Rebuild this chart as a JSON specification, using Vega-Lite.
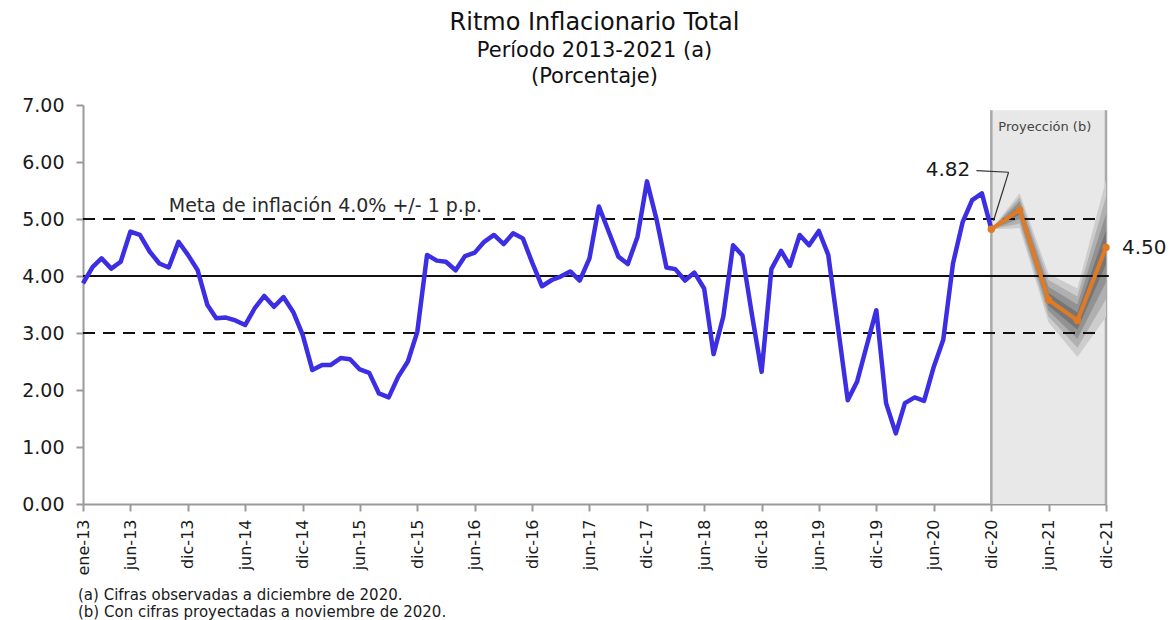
{
  "$schema": "https://vega.github.io/schema/vega-lite/v6.json",
  "width": 1023,
  "height": 399,
  "autosize": {"type": "none"},
  "padding": {"left": 83, "top": 105, "right": 67, "bottom": 116},
  "background": "white",
  "config": {
    "font": "DejaVu Sans",
    "view": {"stroke": null},
    "title": {"font": "DejaVu Sans", "fontSize": 24, "fontWeight": "normal", "color": "#111111", "subtitleFont": "DejaVu Sans", "subtitleFontSize": 21, "subtitleColor": "#111111", "subtitlePadding": 5, "subtitleLineHeight": 26, "anchor": "middle", "frame": "group", "offset": 9}
  },
  "title": {"text": "Ritmo Inflacionario Total", "subtitle": ["Período 2013-2021 (a)", "(Porcentaje)"]},
  "datasets": {
    "obs": [
      {"fecha": "2013-01-01", "valor": 3.87}, {"fecha": "2013-02-01", "valor": 4.16}, {"fecha": "2013-03-01", "valor": 4.31}, {"fecha": "2013-04-01", "valor": 4.13},
      {"fecha": "2013-05-01", "valor": 4.25}, {"fecha": "2013-06-01", "valor": 4.78}, {"fecha": "2013-07-01", "valor": 4.72}, {"fecha": "2013-08-01", "valor": 4.43},
      {"fecha": "2013-09-01", "valor": 4.22}, {"fecha": "2013-10-01", "valor": 4.15}, {"fecha": "2013-11-01", "valor": 4.60}, {"fecha": "2013-12-01", "valor": 4.37},
      {"fecha": "2014-01-01", "valor": 4.10}, {"fecha": "2014-02-01", "valor": 3.49}, {"fecha": "2014-03-01", "valor": 3.26}, {"fecha": "2014-04-01", "valor": 3.27},
      {"fecha": "2014-05-01", "valor": 3.22}, {"fecha": "2014-06-01", "valor": 3.14}, {"fecha": "2014-07-01", "valor": 3.43}, {"fecha": "2014-08-01", "valor": 3.65},
      {"fecha": "2014-09-01", "valor": 3.46}, {"fecha": "2014-10-01", "valor": 3.63}, {"fecha": "2014-11-01", "valor": 3.37}, {"fecha": "2014-12-01", "valor": 2.97},
      {"fecha": "2015-01-01", "valor": 2.35}, {"fecha": "2015-02-01", "valor": 2.44}, {"fecha": "2015-03-01", "valor": 2.44}, {"fecha": "2015-04-01", "valor": 2.56},
      {"fecha": "2015-05-01", "valor": 2.54}, {"fecha": "2015-06-01", "valor": 2.36}, {"fecha": "2015-07-01", "valor": 2.30}, {"fecha": "2015-08-01", "valor": 1.94},
      {"fecha": "2015-09-01", "valor": 1.87}, {"fecha": "2015-10-01", "valor": 2.23}, {"fecha": "2015-11-01", "valor": 2.50}, {"fecha": "2015-12-01", "valor": 3.02},
      {"fecha": "2016-01-01", "valor": 4.37}, {"fecha": "2016-02-01", "valor": 4.27}, {"fecha": "2016-03-01", "valor": 4.25}, {"fecha": "2016-04-01", "valor": 4.10},
      {"fecha": "2016-05-01", "valor": 4.35}, {"fecha": "2016-06-01", "valor": 4.41}, {"fecha": "2016-07-01", "valor": 4.60}, {"fecha": "2016-08-01", "valor": 4.72},
      {"fecha": "2016-09-01", "valor": 4.56}, {"fecha": "2016-10-01", "valor": 4.75}, {"fecha": "2016-11-01", "valor": 4.66}, {"fecha": "2016-12-01", "valor": 4.23},
      {"fecha": "2017-01-01", "valor": 3.82}, {"fecha": "2017-02-01", "valor": 3.93}, {"fecha": "2017-03-01", "valor": 3.99}, {"fecha": "2017-04-01", "valor": 4.08},
      {"fecha": "2017-05-01", "valor": 3.92}, {"fecha": "2017-06-01", "valor": 4.31}, {"fecha": "2017-07-01", "valor": 5.22}, {"fecha": "2017-08-01", "valor": 4.78},
      {"fecha": "2017-09-01", "valor": 4.34}, {"fecha": "2017-10-01", "valor": 4.21}, {"fecha": "2017-11-01", "valor": 4.69}, {"fecha": "2017-12-01", "valor": 5.66},
      {"fecha": "2018-01-01", "valor": 4.98}, {"fecha": "2018-02-01", "valor": 4.15}, {"fecha": "2018-03-01", "valor": 4.12}, {"fecha": "2018-04-01", "valor": 3.92},
      {"fecha": "2018-05-01", "valor": 4.06}, {"fecha": "2018-06-01", "valor": 3.78}, {"fecha": "2018-07-01", "valor": 2.63}, {"fecha": "2018-08-01", "valor": 3.29},
      {"fecha": "2018-09-01", "valor": 4.54}, {"fecha": "2018-10-01", "valor": 4.36}, {"fecha": "2018-11-01", "valor": 3.29}, {"fecha": "2018-12-01", "valor": 2.32},
      {"fecha": "2019-01-01", "valor": 4.12}, {"fecha": "2019-02-01", "valor": 4.44}, {"fecha": "2019-03-01", "valor": 4.18}, {"fecha": "2019-04-01", "valor": 4.72},
      {"fecha": "2019-05-01", "valor": 4.54}, {"fecha": "2019-06-01", "valor": 4.79}, {"fecha": "2019-07-01", "valor": 4.37}, {"fecha": "2019-08-01", "valor": 3.10},
      {"fecha": "2019-09-01", "valor": 1.82}, {"fecha": "2019-10-01", "valor": 2.15}, {"fecha": "2019-11-01", "valor": 2.79}, {"fecha": "2019-12-01", "valor": 3.40},
      {"fecha": "2020-01-01", "valor": 1.77}, {"fecha": "2020-02-01", "valor": 1.24}, {"fecha": "2020-03-01", "valor": 1.77}, {"fecha": "2020-04-01", "valor": 1.87},
      {"fecha": "2020-05-01", "valor": 1.81}, {"fecha": "2020-06-01", "valor": 2.41}, {"fecha": "2020-07-01", "valor": 2.88}, {"fecha": "2020-08-01", "valor": 4.22},
      {"fecha": "2020-09-01", "valor": 4.95}, {"fecha": "2020-10-01", "valor": 5.33}, {"fecha": "2020-11-01", "valor": 5.45}, {"fecha": "2020-12-01", "valor": 4.82}
    ],
    "proy": [
      {"fecha": "2020-12-01", "valor": 4.82}, {"fecha": "2021-03-01", "valor": 5.16}, {"fecha": "2021-06-01", "valor": 3.58}, {"fecha": "2021-09-01", "valor": 3.22}, {"fecha": "2021-12-01", "valor": 4.50}
    ],
    "fan": [
      {"banda": "b1", "fecha": "2020-12-01", "lo": 4.82, "hi": 4.82}, {"banda": "b1", "fecha": "2021-03-01", "lo": 4.84, "hi": 5.45}, {"banda": "b1", "fecha": "2021-06-01", "lo": 3.19, "hi": 4.04}, {"banda": "b1", "fecha": "2021-09-01", "lo": 2.58, "hi": 3.78}, {"banda": "b1", "fecha": "2021-12-01", "lo": 3.28, "hi": 5.68},
      {"banda": "b2", "fecha": "2020-12-01", "lo": 4.82, "hi": 4.82}, {"banda": "b2", "fecha": "2021-03-01", "lo": 4.92, "hi": 5.38}, {"banda": "b2", "fecha": "2021-06-01", "lo": 3.29, "hi": 3.93}, {"banda": "b2", "fecha": "2021-09-01", "lo": 2.74, "hi": 3.64}, {"banda": "b2", "fecha": "2021-12-01", "lo": 3.59, "hi": 5.39},
      {"banda": "b3", "fecha": "2020-12-01", "lo": 4.82, "hi": 4.82}, {"banda": "b3", "fecha": "2021-03-01", "lo": 5.00, "hi": 5.31}, {"banda": "b3", "fecha": "2021-06-01", "lo": 3.39, "hi": 3.81}, {"banda": "b3", "fecha": "2021-09-01", "lo": 2.90, "hi": 3.50}, {"banda": "b3", "fecha": "2021-12-01", "lo": 3.89, "hi": 5.09},
      {"banda": "b4", "fecha": "2020-12-01", "lo": 4.82, "hi": 4.82}, {"banda": "b4", "fecha": "2021-03-01", "lo": 5.08, "hi": 5.23}, {"banda": "b4", "fecha": "2021-06-01", "lo": 3.48, "hi": 3.70}, {"banda": "b4", "fecha": "2021-09-01", "lo": 3.06, "hi": 3.36}, {"banda": "b4", "fecha": "2021-12-01", "lo": 4.20, "hi": 4.80}
    ],
    "ref": [
      {"tipo": "discontinua", "inicio": "2013-01-01", "fin": "2021-11-17", "valor": 5},
      {"tipo": "discontinua", "inicio": "2013-01-01", "fin": "2021-11-17", "valor": 3},
      {"tipo": "continua", "inicio": "2013-01-01", "fin": "2021-12-10", "valor": 4}
    ],
    "zona": [{"inicio": "2020-12-01", "fin": "2021-12-01", "y0": 0, "y1": 6.91}],
    "bordes": [{"fecha": "2020-12-01", "y0": 0, "y1": 6.91}, {"fecha": "2021-12-01", "y0": 0, "y1": 6.91}],
    "guia": [
      {"x1": "2020-10-15", "y1": 5.85, "x2": "2021-01-25", "y2": 5.82},
      {"x1": "2021-01-25", "y1": 5.82, "x2": "2020-12-08", "y2": 4.97}
    ]
  },
  "layer": [
    {
      "data": {"name": "zona"},
      "mark": {"type": "rect", "color": "#e8e8e8"},
      "encoding": {
        "x": {"field": "inicio", "type": "temporal", "scale": {"type": "utc", "domain": [{"year": 2013, "month": 1, "date": 1, "utc": true}, {"year": 2021, "month": 12, "date": 1, "utc": true}]}},
        "x2": {"field": "fin"},
        "y": {"field": "y0", "type": "quantitative", "scale": {"domain": [0, 7], "nice": false, "zero": false}},
        "y2": {"field": "y1"}
      }
    },
    {
      "data": {"name": "bordes"},
      "mark": {"type": "rule", "color": "#a9a9a9", "strokeWidth": 2.5},
      "encoding": {
        "x": {"field": "fecha", "type": "temporal", "scale": {"type": "utc", "domain": [{"year": 2013, "month": 1, "date": 1, "utc": true}, {"year": 2021, "month": 12, "date": 1, "utc": true}]}},
        "y": {"field": "y0", "type": "quantitative", "scale": {"domain": [0, 7], "nice": false, "zero": false}},
        "y2": {"field": "y1"}
      }
    },
    {
      "data": {"name": "fan"},
      "mark": {"type": "area", "opacity": 1},
      "encoding": {
        "x": {"field": "fecha", "type": "temporal", "scale": {"type": "utc", "domain": [{"year": 2013, "month": 1, "date": 1, "utc": true}, {"year": 2021, "month": 12, "date": 1, "utc": true}]}},
        "y": {"field": "lo", "type": "quantitative", "stack": null, "scale": {"domain": [0, 7], "nice": false, "zero": false}},
        "y2": {"field": "hi"},
        "color": {"field": "banda", "type": "nominal", "scale": {"domain": ["b1", "b2", "b3", "b4"], "range": ["#cdcdcd", "#b0b0b0", "#929292", "#767676"]}, "legend": null}
      }
    },
    {
      "data": {"name": "ref"},
      "mark": {"type": "rule", "color": "#111111", "strokeWidth": 2},
      "encoding": {
        "x": {"field": "inicio", "type": "temporal", "scale": {"type": "utc", "domain": [{"year": 2013, "month": 1, "date": 1, "utc": true}, {"year": 2021, "month": 12, "date": 1, "utc": true}]}},
        "x2": {"field": "fin"},
        "y": {"field": "valor", "type": "quantitative", "scale": {"domain": [0, 7], "nice": false, "zero": false}},
        "strokeDash": {"field": "tipo", "type": "nominal", "scale": {"domain": ["discontinua", "continua"], "range": [[12, 8], [1, 0]]}, "legend": null}
      }
    },
    {
      "data": {"name": "obs"},
      "mark": {"type": "line", "color": "#3b2ee3", "strokeWidth": 4.5, "strokeJoin": "round"},
      "encoding": {
        "x": {
          "field": "fecha", "type": "temporal",
          "scale": {"type": "utc", "domain": [{"year": 2013, "month": 1, "date": 1, "utc": true}, {"year": 2021, "month": 12, "date": 1, "utc": true}]},
          "axis": {
            "title": null, "grid": false,
            "values": [
              {"year": 2013, "month": 1, "date": 1, "utc": true}, {"year": 2013, "month": 6, "date": 1, "utc": true}, {"year": 2013, "month": 12, "date": 1, "utc": true},
              {"year": 2014, "month": 6, "date": 1, "utc": true}, {"year": 2014, "month": 12, "date": 1, "utc": true},
              {"year": 2015, "month": 6, "date": 1, "utc": true}, {"year": 2015, "month": 12, "date": 1, "utc": true},
              {"year": 2016, "month": 6, "date": 1, "utc": true}, {"year": 2016, "month": 12, "date": 1, "utc": true},
              {"year": 2017, "month": 6, "date": 1, "utc": true}, {"year": 2017, "month": 12, "date": 1, "utc": true},
              {"year": 2018, "month": 6, "date": 1, "utc": true}, {"year": 2018, "month": 12, "date": 1, "utc": true},
              {"year": 2019, "month": 6, "date": 1, "utc": true}, {"year": 2019, "month": 12, "date": 1, "utc": true},
              {"year": 2020, "month": 6, "date": 1, "utc": true}, {"year": 2020, "month": 12, "date": 1, "utc": true},
              {"year": 2021, "month": 6, "date": 1, "utc": true}, {"year": 2021, "month": 12, "date": 1, "utc": true}
            ],
            "labelExpr": "['ene','feb','mar','abr','may','jun','jul','ago','sep','oct','nov','dic'][utcmonth(datum.value)] + '-' + utcFormat(datum.value, '%y')",
            "labelAngle": 270, "labelFontSize": 16, "labelFont": "DejaVu Sans", "labelColor": "#1a1a1a",
            "labelPadding": 8, "labelOverlap": false, "labelFlush": false, "labelBound": false,
            "tickColor": "#9a9a9a", "tickSize": 7, "tickWidth": 2,
            "domainColor": "#9a9a9a", "domainWidth": 2
          }
        },
        "y": {
          "field": "valor", "type": "quantitative",
          "scale": {"domain": [0, 7], "nice": false, "zero": false},
          "axis": {
            "title": null, "grid": false, "values": [0, 1, 2, 3, 4, 5, 6, 7], "format": ".2f",
            "labelFontSize": 19, "labelFont": "DejaVu Sans", "labelColor": "#1a1a1a", "labelPadding": 12,
            "tickColor": "#9a9a9a", "tickSize": 7, "tickWidth": 2,
            "domainColor": "#9a9a9a", "domainWidth": 2
          }
        }
      }
    },
    {
      "data": {"name": "proy"},
      "mark": {"type": "line", "color": "#e07b24", "strokeWidth": 4, "strokeJoin": "round", "point": {"filled": true, "size": 55, "color": "#e07b24"}},
      "encoding": {
        "x": {"field": "fecha", "type": "temporal", "scale": {"type": "utc", "domain": [{"year": 2013, "month": 1, "date": 1, "utc": true}, {"year": 2021, "month": 12, "date": 1, "utc": true}]}},
        "y": {"field": "valor", "type": "quantitative", "scale": {"domain": [0, 7], "nice": false, "zero": false}}
      }
    },
    {
      "data": {"name": "guia"},
      "mark": {"type": "rule", "color": "#333333", "strokeWidth": 1.2},
      "encoding": {
        "x": {"field": "x1", "type": "temporal", "scale": {"type": "utc", "domain": [{"year": 2013, "month": 1, "date": 1, "utc": true}, {"year": 2021, "month": 12, "date": 1, "utc": true}]}},
        "x2": {"field": "x2"},
        "y": {"field": "y1", "type": "quantitative", "scale": {"domain": [0, 7], "nice": false, "zero": false}},
        "y2": {"field": "y2"}
      }
    },
    {
      "data": {"values": [{"fecha": "2013-10-01", "valor": 5.23, "texto": "Meta de inflación 4.0% +/- 1 p.p."}]},
      "mark": {"type": "text", "align": "left", "baseline": "middle", "fontSize": 19, "color": "#2a2a2a"},
      "encoding": {
        "x": {"field": "fecha", "type": "temporal", "scale": {"type": "utc", "domain": [{"year": 2013, "month": 1, "date": 1, "utc": true}, {"year": 2021, "month": 12, "date": 1, "utc": true}]}},
        "y": {"field": "valor", "type": "quantitative", "scale": {"domain": [0, 7], "nice": false, "zero": false}},
        "text": {"field": "texto"}
      }
    },
    {
      "data": {"values": [{"fecha": "2020-09-25", "valor": 5.86, "texto": "4.82"}]},
      "mark": {"type": "text", "align": "right", "baseline": "middle", "fontSize": 20, "color": "#1a1a1a"},
      "encoding": {
        "x": {"field": "fecha", "type": "temporal", "scale": {"type": "utc", "domain": [{"year": 2013, "month": 1, "date": 1, "utc": true}, {"year": 2021, "month": 12, "date": 1, "utc": true}]}},
        "y": {"field": "valor", "type": "quantitative", "scale": {"domain": [0, 7], "nice": false, "zero": false}},
        "text": {"field": "texto"}
      }
    },
    {
      "data": {"values": [{"fecha": "2021-12-01", "valor": 4.49, "texto": "4.50"}]},
      "mark": {"type": "text", "align": "left", "baseline": "middle", "dx": 16, "fontSize": 20, "color": "#1a1a1a"},
      "encoding": {
        "x": {"field": "fecha", "type": "temporal", "scale": {"type": "utc", "domain": [{"year": 2013, "month": 1, "date": 1, "utc": true}, {"year": 2021, "month": 12, "date": 1, "utc": true}]}},
        "y": {"field": "valor", "type": "quantitative", "scale": {"domain": [0, 7], "nice": false, "zero": false}},
        "text": {"field": "texto"}
      }
    },
    {
      "data": {"values": [{"fecha": "2020-12-01", "valor": 6.62, "texto": "Proyección (b)"}]},
      "mark": {"type": "text", "align": "left", "baseline": "middle", "dx": 7, "fontSize": 13, "color": "#444444"},
      "encoding": {
        "x": {"field": "fecha", "type": "temporal", "scale": {"type": "utc", "domain": [{"year": 2013, "month": 1, "date": 1, "utc": true}, {"year": 2021, "month": 12, "date": 1, "utc": true}]}},
        "y": {"field": "valor", "type": "quantitative", "scale": {"domain": [0, 7], "nice": false, "zero": false}},
        "text": {"field": "texto"}
      }
    },
    {
      "data": {"values": [
        {"fecha": "2013-01-01", "valor": -1.60, "texto": "(a) Cifras observadas a diciembre de 2020."},
        {"fecha": "2013-01-01", "valor": -1.90, "texto": "(b) Con cifras proyectadas a noviembre de 2020."}
      ]},
      "mark": {"type": "text", "align": "left", "baseline": "middle", "dx": -5, "fontSize": 15, "color": "#1a1a1a"},
      "encoding": {
        "x": {"field": "fecha", "type": "temporal", "scale": {"type": "utc", "domain": [{"year": 2013, "month": 1, "date": 1, "utc": true}, {"year": 2021, "month": 12, "date": 1, "utc": true}]}},
        "y": {"field": "valor", "type": "quantitative", "scale": {"domain": [0, 7], "nice": false, "zero": false}},
        "text": {"field": "texto"}
      }
    }
  ]
}
